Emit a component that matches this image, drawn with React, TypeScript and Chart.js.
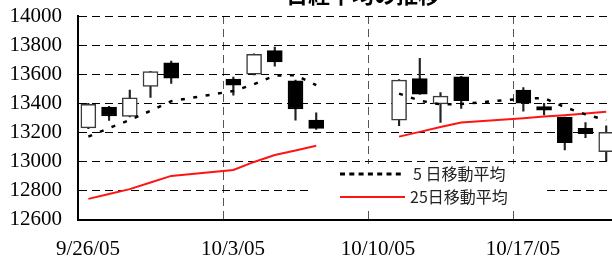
import React, { useEffect, useRef } from 'react';
import { Chart, registerables } from 'chart.js';

Chart.register(...registerables);

const TITLE = '日経平均の推移';

const dates = [
  '2005-09-26', '2005-09-27', '2005-09-28', '2005-09-29', '2005-09-30',
  '2005-10-03', '2005-10-04', '2005-10-05', '2005-10-06', '2005-10-07',
  '2005-10-10', '2005-10-11', '2005-10-12', '2005-10-13', '2005-10-14',
  '2005-10-17', '2005-10-18', '2005-10-19', '2005-10-20', '2005-10-21',
];

const openPrices = [13230, 13373, 13310, 13515, 13678, 13566, 13600, 13762, 13554, 13284, null, 13284, 13570, 13395, 13581, 13490, 13376, 13303, 13227, 13067];
const highPrices = [13400, 13378, 13490, 13620, 13690, 13580, 13740, 13787, 13560, 13334, null, 13562, 13708, 13474, 13585, 13508, 13400, 13305, 13266, 13245];
const lowPrices = [13225, 13282, 13305, 13440, 13537, 13456, 13595, 13655, 13284, 13220, null, 13245, 13460, 13268, 13364, 13346, 13319, 13078, 13163, 13003];
const closePrices = [13392, 13312, 13437, 13618, 13573, 13524, 13737, 13684, 13360, 13227, null, 13559, 13463, 13449, 13417, 13400, 13353, 13128, 13190, 13200];

const ma5 = [13170, 13229, 13284, 13348, 13414, 13484, 13531, 13590, 13593, 13525, null, 13466, 13418, 13392, 13394, 13432, 13435, 13373, 13323, 13284];
const ma25 = [12742, 12775, 12809, 12855, 12900, 12941, 12996, 13044, 13075, 13108, null, 13170, 13203, 13236, 13268, 13296, 13308, 13318, 13330, 13341];

const ma5Label = '5 日移動平均';
const ma25Label = '25日移動平均';

const xTickLabels = ['9/26/05', '10/3/05', '10/10/05', '10/17/05'];
const yMin = 12600;
const yMax = 14000;
const yStep = 200;

const BASE = Date.UTC(2005, 8, 26);
const dayIndex = (d: string) => {
  const [y, m, dd] = d.split('-').map(Number);
  return (Date.UTC(y, m - 1, dd) - BASE) / 86400000;
};
const xs = dates.map((d) => dayIndex(d) + 0.5);

const SERIF = '"Liberation Serif", "DejaVu Serif", serif';
const CJK = '"Noto Sans CJK JP", sans-serif';

const titlePlugin = {
  id: 'topTitle',
  afterDraw(chart: any) {
    const ctx = chart.ctx;
    ctx.save();
    ctx.font = `bold 22px ${CJK}`;
    ctx.fillStyle = '#000';
    ctx.textAlign = 'center';
    ctx.textBaseline = 'alphabetic';
    ctx.fillText(TITLE, 363, 3);
    ctx.restore();
  },
};

const legendPlugin = {
  id: 'innerLegend',
  afterDraw(chart: any) {
    const ctx = chart.ctx;
    ctx.save();
    ctx.fillStyle = '#fff';
    ctx.fillRect(310, 164, 237, 42);
    ctx.lineCap = 'butt';
    ctx.strokeStyle = '#000';
    ctx.lineWidth = 3;
    ctx.setLineDash([5, 4.3]);
    ctx.beginPath();
    ctx.moveTo(340, 174);
    ctx.lineTo(405, 174);
    ctx.stroke();
    ctx.setLineDash([]);
    ctx.strokeStyle = '#ff1414';
    ctx.lineWidth = 2;
    ctx.beginPath();
    ctx.moveTo(340, 197);
    ctx.lineTo(405, 197);
    ctx.stroke();
    ctx.fillStyle = '#222';
    ctx.font = `16px ${CJK}`;
    ctx.textAlign = 'left';
    ctx.textBaseline = 'middle';
    ctx.fillText(ma5Label, 413, 174);
    ctx.fillText(ma25Label, 410, 197);
    ctx.restore();
  },
};

export default function App() {
  const ref = useRef<HTMLCanvasElement | null>(null);

  useEffect(() => {
    if (!ref.current) return;
    const bodyPoints: any[] = [];
    const wickPoints: any[] = [];
    const bodyFill: string[] = [];
    const bodyBorder: string[] = [];
    dates.forEach((_, i) => {
      const o = openPrices[i];
      const c = closePrices[i];
      const h = highPrices[i];
      const l = lowPrices[i];
      if (o == null || c == null || h == null || l == null) return;
      bodyPoints.push({ x: xs[i], y: [o, c] });
      wickPoints.push({ x: xs[i], y: [l, h] });
      const up = c >= o;
      bodyFill.push(up ? '#ffffff' : '#000000');
      bodyBorder.push(up ? '#3a3a3a' : '#000000');
    });
    const ma5Points = dates.map((_, i) => ({ x: xs[i], y: ma5[i] }));
    const ma25Points = dates.map((_, i) => ({ x: xs[i], y: ma25[i] }));

    const chart = new Chart(ref.current, {
      type: 'line',
      data: {
        datasets: [
          {
            type: 'line',
            label: ma5Label,
            data: ma5Points,
            borderColor: '#000',
            borderWidth: 2.5,
            borderDash: [4, 8.5],
            pointRadius: 0,
            spanGaps: false,
            fill: false,
            order: 0,
          },
          {
            type: 'line',
            label: ma25Label,
            data: ma25Points,
            borderColor: '#ff1414',
            borderWidth: 2,
            pointRadius: 0,
            spanGaps: false,
            fill: false,
            order: 0,
          },
          {
            type: 'bar',
            label: 'body',
            data: bodyPoints,
            backgroundColor: bodyFill,
            borderColor: bodyBorder,
            borderWidth: 1.5,
            borderSkipped: false,
            barThickness: 15,
            grouped: false,
            order: 1,
          },
          {
            type: 'bar',
            label: 'wick',
            data: wickPoints,
            backgroundColor: '#222',
            borderWidth: 0,
            barThickness: 1.5,
            grouped: false,
            order: 2,
          },
        ],
      } as any,
      options: {
        responsive: false,
        animation: false,
        layout: { padding: { top: 16, left: 0, right: 68, bottom: 0 } },
        plugins: {
          legend: { display: false },
          tooltip: { enabled: false },
          title: { display: false },
        },
        scales: {
          x: {
            type: 'linear',
            min: 0,
            max: 28,
            offset: false,
            grid: {
              display: true,
              offset: false,
              color: '#555',
              lineWidth: 1,
              drawTicks: true,
              tickLength: 17,
              tickColor: 'rgba(0,0,0,0)',
            },
            border: { display: true, color: '#000', width: 2, dash: [8, 5] },
            ticks: {
              stepSize: 7,
              padding: 0,
              labelOffset: 10,
              autoSkip: false,
              maxRotation: 0,
              color: '#000',
              font: { family: SERIF, size: 21 },
              callback: (v: any) => xTickLabels[Math.round(Number(v) / 7)] ?? '',
            },
            afterFit: (s: any) => {
              s.height = 37.5;
            },
          },
          y: {
            type: 'linear',
            min: yMin,
            max: yMax,
            grid: {
              color: '#000',
              lineWidth: 1,
              drawTicks: true,
              tickLength: 16,
              tickColor: 'rgba(0,0,0,0)',
            },
            border: { display: true, color: '#000', width: 2, dash: [8, 5] },
            ticks: {
              stepSize: yStep,
              padding: 0,
              autoSkip: false,
              color: '#000',
              font: { family: SERIF, size: 21 },
              callback: (v: any) => String(v),
            },
            afterFit: (s: any) => {
              s.width = 78;
            },
          },
        },
      } as any,
      plugins: [titlePlugin, legendPlugin],
    });
    return () => chart.destroy();
  }, []);

  return (
    <div style={{ position: 'fixed', left: 0, top: 0, width: 612, height: 257, overflow: 'hidden', background: '#fff' }}>
      <canvas ref={ref} width={726} height={257} style={{ display: 'block', width: 726, height: 257 }} />
    </div>
  );
}
